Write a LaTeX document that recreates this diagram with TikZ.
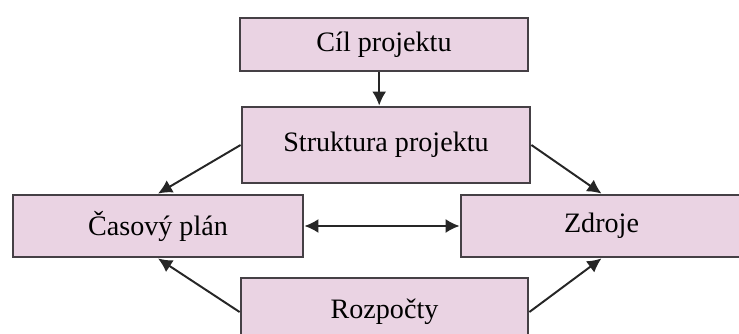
\documentclass[tikz,border=0pt]{standalone}
\usepackage{fontspec}
\setmainfont{Liberation Serif}
\usetikzlibrary{arrows.meta}
\definecolor{boxfill}{HTML}{EAD3E3}
\definecolor{boxline}{HTML}{454045}

\begin{document}
\begin{tikzpicture}[
    box/.style={draw=boxline, line width=2pt, fill=boxfill, inner sep=0pt, font=\fontsize{20}{24}\selectfont},
    arr/.style={->, line width=1.4pt, draw=black!85, >={Latex[length=10pt,width=10pt]}},
]
\useasboundingbox (0,0) rectangle (18.475,-8.35);
\clip (0,0) rectangle (18.475,-8.35);

\node[box, minimum width=7.2cm, minimum height=1.325cm] (cil) at (9.6,-1.1125) {Cíl projektu};
\node[box, minimum width=7.2cm, minimum height=1.9cm] (struk) at (9.65,-3.625) {Struktura projektu};
\node[box, minimum width=7.25cm, minimum height=1.55cm] (cas) at (3.95,-5.65) {Časový plán};
\node[box, minimum width=7.025cm, minimum height=1.55cm] (zdr) at (15.0375,-5.65) {Zdroje};
\node[box, minimum width=7.175cm, minimum height=1.7cm] (rozp) at (9.6125,-7.8) {Rozpočty};

\draw[arr] ([xshift=-0.12cm]cil.south) -- ([xshift=-0.12cm]cil.south |- struk.north);
\draw[arr] (struk.west) -- (cas.north);
\draw[arr] (struk.east) -- (zdr.north);
\draw[arr] (rozp.west) -- (cas.south);
\draw[arr] (rozp.east) -- (zdr.south);
\draw[arr, <->] (cas.east) -- (zdr.west);

\end{tikzpicture}
\end{document}
